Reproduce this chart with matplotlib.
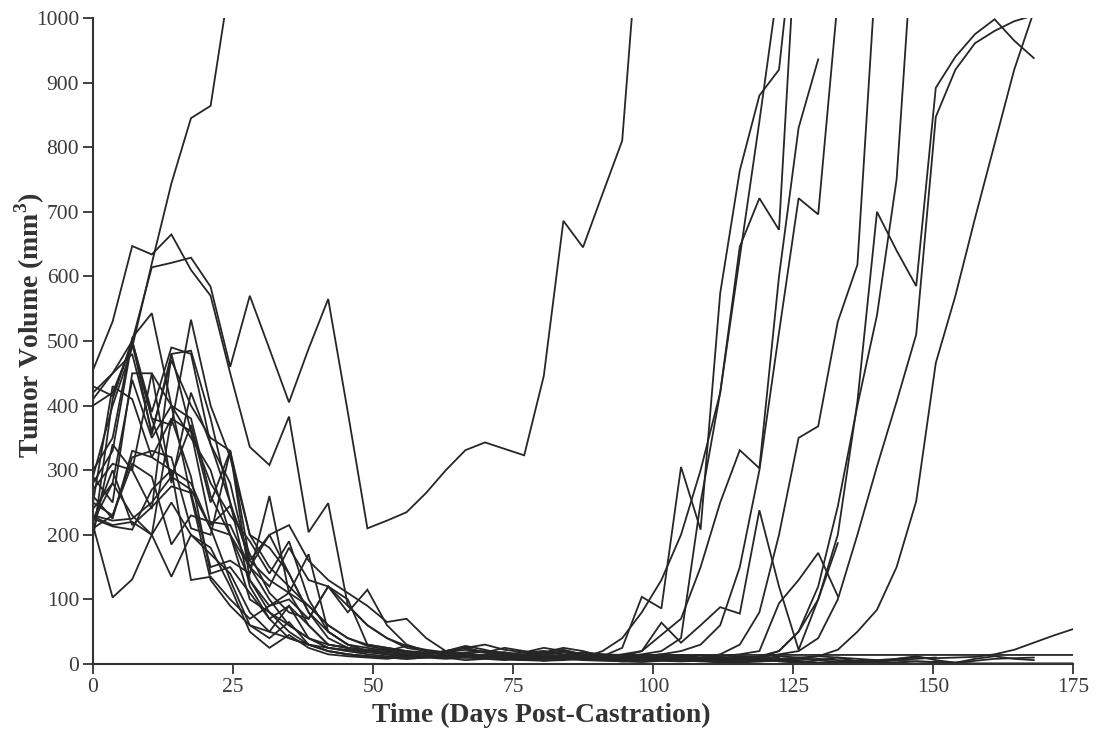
import matplotlib
matplotlib.use("Agg")
import matplotlib.pyplot as plt

# measurement days (twice weekly)
DAYS = [0, 3.5, 7, 10.5, 14, 17.5, 21, 24.5, 28, 31.5, 35, 38.5, 42, 45.5, 49,
        52.5, 56, 59.5, 63, 66.5, 70, 73.5, 77, 80.5, 84, 87.5, 91, 94.5, 98,
        101.5, 105, 108.5, 112, 115.5, 119, 122.5, 126, 129.5, 133, 136.5, 140,
        143.5, 147, 150.5, 154, 157.5, 161, 164.5, 168, 171.5, 175]

# tumour volume (mm3) per mouse; a series stops when the mouse leaves the study
MOUSE_01 = [410, 450, 500, 614, 621, 629, 584, 460, 570, 488, 405, 488, 565, 390, 210, 222, 235,
            265, 300, 331, 343, 333, 323, 446, 686, 645, 728, 810, 1200]
MOUSE_02 = [290, 400, 490, 620, 744, 845, 864, 1060]
MOUSE_03 = [455, 530, 647, 634, 665, 610, 570, 450, 336, 308, 383, 204, 249, 91, 60, 40, 28, 20,
            18, 15, 14, 12, 10, 8, 10, 12, 10, 8, 10, 12, 8, 10, 15, 30, 80, 200, 350, 368, 530,
            618, 1100]
MOUSE_04 = [430, 415, 500, 390, 490, 480, 340, 280, 150, 100, 60, 40, 25, 20, 18, 15, 14, 12, 15,
            18, 20, 15, 12, 18, 22, 15, 12, 25, 104, 86, 305, 208, 574, 764, 880, 920, 1200]
MOUSE_05 = [420, 450, 480, 360, 470, 400, 350, 330, 160, 130, 110, 60, 30, 25, 20, 18, 15, 12, 10,
            12, 15, 18, 14, 10, 12, 14, 10, 12, 15, 20, 40, 250, 420, 630, 840, 1060]
MOUSE_06 = [400, 420, 495, 380, 370, 533, 400, 320, 200, 150, 120, 90, 60, 40, 28, 22, 18, 15, 20,
            25, 18, 12, 15, 20, 15, 10, 20, 40, 80, 130, 200, 300, 420, 646, 721, 672, 1200]
MOUSE_07 = [300, 350, 505, 543, 400, 350, 300, 200, 100, 80, 60, 40, 30, 25, 20, 15, 12, 15, 18,
            14, 12, 10, 12, 15, 18, 12, 10, 15, 20, 45, 70, 150, 250, 331, 303, 600, 830, 936]
MOUSE_08 = [290, 250, 450, 450, 280, 420, 340, 250, 160, 200, 140, 80, 50, 30, 25, 20, 15, 12, 10,
            12, 14, 12, 10, 8, 10, 12, 14, 10, 12, 15, 20, 30, 60, 150, 300, 513, 721, 696, 1030]
MOUSE_09 = [280, 330, 500, 380, 290, 370, 250, 330, 130, 80, 50, 30, 20, 15, 12, 10, 14, 18, 15,
            10, 12, 15, 18, 20, 14, 10, 8, 12, 20, 64, 33, 60, 88, 78, 238, 120, 22, 100, 187]
MOUSE_10 = [270, 310, 300, 240, 480, 485, 380, 250, 120, 70, 40, 30, 20, 15, 12, 10, 8, 10, 12,
            15, 12, 8, 6, 8, 10, 12, 8, 6, 5, 6, 8, 10, 12, 15, 20, 94, 130, 172, 105]
MOUSE_11 = [260, 225, 330, 320, 300, 280, 210, 200, 150, 120, 180, 130, 120, 90, 60, 40, 25, 20,
            15, 12, 10, 12, 14, 10, 8, 10, 12, 10, 8, 10, 12, 10, 8, 10, 12, 20, 50, 100, 200,
            406, 700, 640, 585, 892, 940, 975, 998, 965, 938]
MOUSE_12 = [250, 230, 310, 290, 185, 230, 220, 215, 150, 200, 215, 160, 130, 110, 90, 65, 70, 40,
            20, 15, 12, 10, 8, 10, 12, 14, 12, 10, 8, 10, 12, 14, 10, 8, 10, 20, 50, 120, 244,
            400, 540, 750, 1200]
MOUSE_13 = [240, 280, 440, 350, 400, 380, 260, 200, 130, 90, 100, 70, 120, 80, 115, 60, 30, 20,
            15, 12, 10, 8, 10, 12, 10, 8, 6, 8, 10, 8, 6, 8, 10, 12, 10, 15, 20, 40, 100, 200,
            306, 406, 510, 847, 920, 961, 980, 995, 1004]
MOUSE_14 = [230, 222, 225, 250, 290, 270, 210, 130, 60, 40, 65, 30, 20, 15, 12, 10, 8, 10, 12, 10,
            8, 6, 8, 10, 8, 6, 5, 6, 8, 6, 5, 6, 8, 6, 5, 6, 8, 12, 22, 50, 84, 150, 252, 466,
            570, 690, 805, 920, 1010]
MOUSE_15 = [228, 215, 220, 200, 135, 200, 170, 140, 80, 50, 90, 40, 25, 20, 15, 12, 10, 12, 14,
            12, 10, 8, 6, 8, 10, 8, 6, 5, 6, 5, 4, 5, 6, 5, 4, 5, 6, 8, 6, 5, 6, 8, 10, 9, 10, 11,
            15, 22, 33, 44, 54]
MOUSE_16 = [225, 213, 208, 270, 300, 130, 135, 100, 70, 90, 110, 90, 60, 40, 30, 25, 20, 18, 15,
            14, 12, 14, 15, 14, 13, 14, 15, 14, 14, 14, 14, 14, 14, 14, 14, 14, 14, 14, 14, 14,
            14, 14, 14, 14, 14, 14, 14, 14, 14, 14, 14]
MOUSE_17 = [222, 300, 215, 243, 275, 265, 150, 160, 140, 260, 110, 170, 50, 30, 20, 15, 12, 10, 8,
            10, 12, 8, 6, 5, 6, 8, 6, 4, 3, 5, 7, 5, 3, 2, 4, 6, 4, 2, 3, 5, 3, 2, 4, 3, 2, 5, 8,
            9, 10]
MOUSE_18 = [220, 280, 230, 200, 250, 200, 180, 120, 50, 25, 45, 25, 15, 12, 10, 8, 12, 15, 10, 6,
            8, 12, 10, 5, 8, 10, 6, 4, 6, 8, 12, 6, 2, 6, 10, 4, 2, 6, 10, 4, 2, 8, 12, 6, 2, 8,
            12, 8, 6]
MOUSE_19 = [215, 103, 131, 200, 380, 360, 280, 230, 190, 140, 190, 100, 50, 30, 20, 15, 12, 15,
            20, 25, 18, 12, 10, 15, 20, 12, 8, 10, 14, 10, 6, 4, 3, 5, 8, 12, 10, 6, 3, 2, 4, 6,
            8, 10]
MOUSE_20 = [210, 230, 320, 330, 320, 210, 200, 330, 200, 180, 140, 80, 40, 25, 20, 22, 18, 15, 20,
            28, 22, 15, 12, 18, 25, 20, 12, 8, 10, 12, 8, 5, 4, 6, 8, 5, 3, 2, 1, 2]
MOUSE_21 = [200, 340, 300, 450, 400, 260, 130, 90, 60, 50, 40, 30, 25, 22, 20, 25, 20, 15, 18, 22,
            18, 25, 20, 15, 12, 18, 15, 10, 8, 12, 10, 8, 6, 5, 6, 8, 10, 12, 10, 8, 6, 5, 4, 3,
            2, 1, 1, 1, 1, 1, 1]
MOUSE_22 = [195, 410, 500, 355, 480, 360, 215, 245, 170, 110, 80, 70, 120, 100, 30, 25, 18, 15,
            20, 25, 30, 22, 18, 25, 20, 15, 10, 8, 12, 15, 10, 6]
MOUSE_23 = [250, 430, 410, 320, 380, 290, 140, 150, 110, 70, 90, 60, 30, 25, 22, 20, 28, 22, 18,
            15, 20, 18, 12, 10, 14, 18, 12, 10, 8, 12, 14, 10, 8, 6, 8, 10]

MICE = [MOUSE_01, MOUSE_02, MOUSE_03, MOUSE_04, MOUSE_05, MOUSE_06, MOUSE_07, MOUSE_08,
        MOUSE_09, MOUSE_10, MOUSE_11, MOUSE_12, MOUSE_13, MOUSE_14, MOUSE_15, MOUSE_16,
        MOUSE_17, MOUSE_18, MOUSE_19, MOUSE_20, MOUSE_21, MOUSE_22, MOUSE_23]

X_TICKS = [0, 25, 50, 75, 100, 125, 150, 175]
Y_TICKS = [0, 100, 200, 300, 400, 500, 600, 700, 800, 900, 1000]

plt.rcParams['font.family'] = ['Liberation Serif', 'DejaVu Serif']
plt.rcParams['mathtext.fontset'] = 'custom'
plt.rcParams['mathtext.rm'] = 'Liberation Serif'
plt.rcParams['mathtext.bf'] = 'Liberation Serif:bold'

fig = plt.figure(figsize=(11.02, 7.31), dpi=100)
ax = fig.add_axes([93 / 1102, 1 - 664 / 731, 980 / 1102, 646 / 731])

for vols in MICE:
    ax.plot(DAYS[:len(vols)], vols, color='#262626', linewidth=1.3, solid_joinstyle='miter')

ax.set_xlim(0, 175)
ax.set_ylim(0, 1000)
ax.set_xticks(X_TICKS)
ax.set_yticks(Y_TICKS)

for side in ['top', 'right']:
    ax.spines[side].set_visible(False)
for side in ['left', 'bottom']:
    ax.spines[side].set_color('#333333')
    ax.spines[side].set_linewidth(1.5)

ax.tick_params(direction='out', length=7, width=1.3, color='#333333',
               labelsize=15.5, labelcolor='#3a3a3a', pad=3)

ax.set_xlabel('Time (Days Post-Castration)', fontsize=20, fontweight='bold', color='#333333')
ax.set_ylabel(r'Tumor Volume (mm$^{\mathbf{3}}$)', fontsize=20, fontweight='bold', color='#333333')
ax.xaxis.set_label_coords(0.457, -0.06)
ax.yaxis.set_label_coords(-0.047, 0.525)

fig.savefig('out.png', dpi=100)
